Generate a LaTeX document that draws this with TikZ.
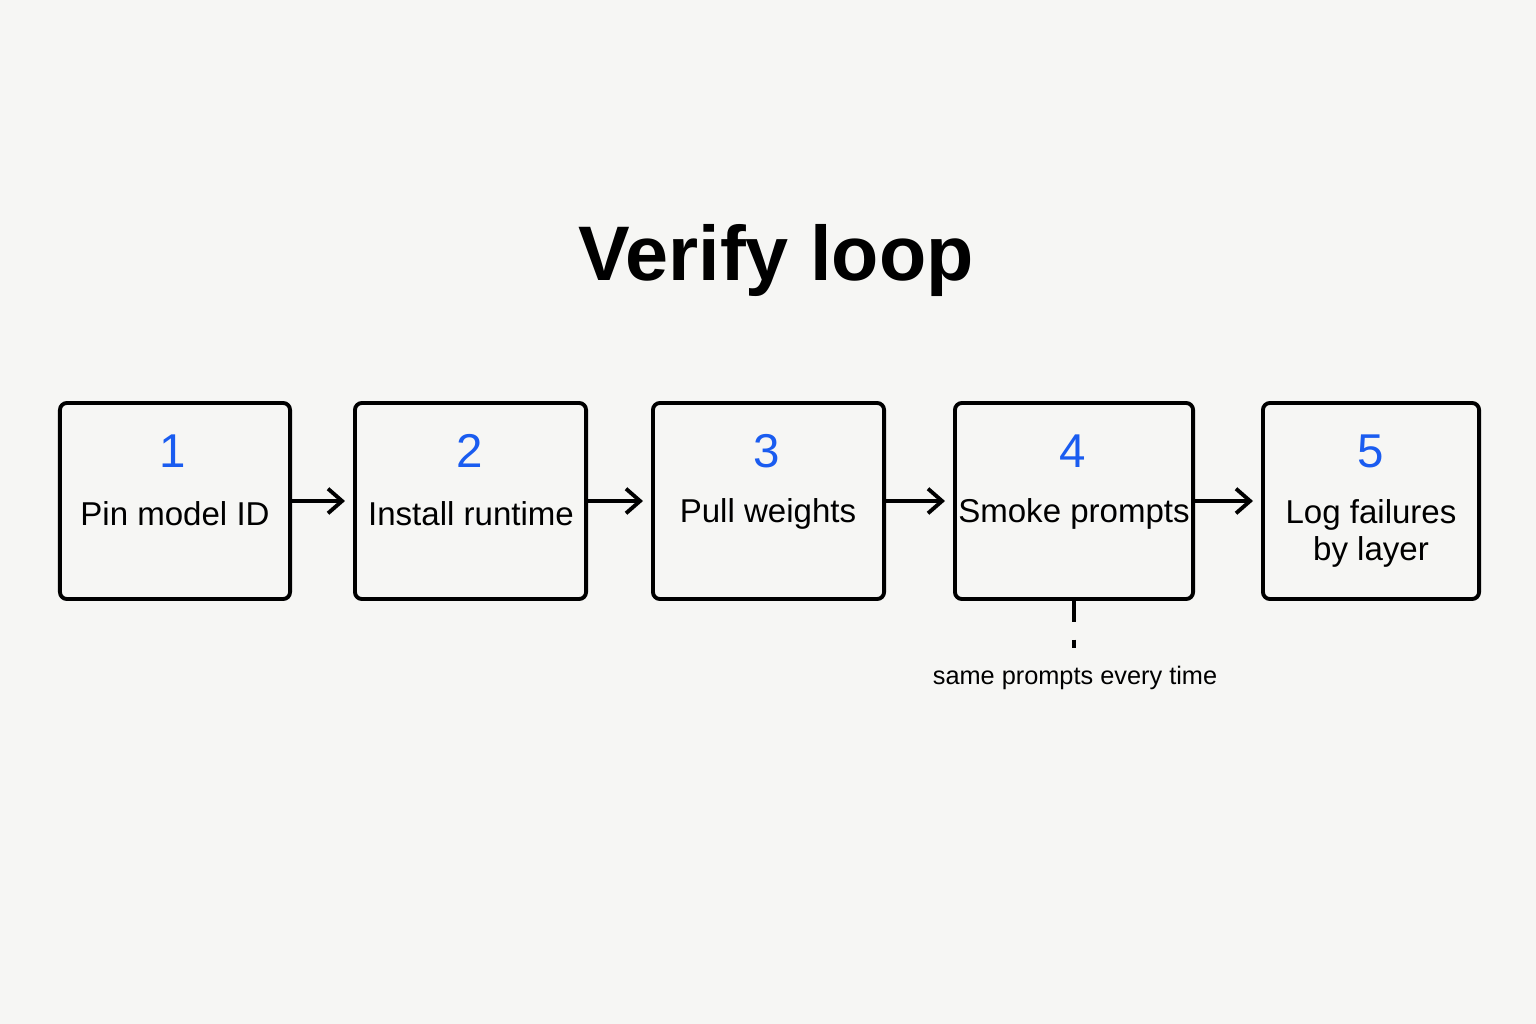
\documentclass[tikz,border=0pt]{standalone}
\usepackage{fontspec}
\setmainfont{Liberation Sans}
\usetikzlibrary{positioning,arrows.meta}
\definecolor{bg}{HTML}{F6F6F4}
\definecolor{stepblue}{HTML}{1A5CF0}
\tikzset{stepbox/.style={draw,line width=1.1pt,rounded corners=2pt,minimum height=1.96cm,inner sep=0pt},
	 num/.style={text=stepblue,font=\fontsize{13.5}{16}\selectfont},
	 lbl/.style={font=\fontsize{9.4}{11.5}\selectfont,align=center},
	 flow/.style={-{Straight Barb[length=4pt,width=7pt]},line width=1.1pt,shorten >=0.08cm}
	 }

\begin{document}
\begin{tikzpicture}[x=0.01cm,y=-0.01cm]
	\fill[bg] (0,0) rectangle (1536,1024);
	\node (title) at (776,260) {\fontsize{22}{26}\selectfont\bfseries Verify loop};

	\node[stepbox,minimum width=2.30cm] (s1) at (175,501) {};
	\node[stepbox,minimum width=2.31cm] (s2) at (470.5,501) {};
	\node[stepbox,minimum width=2.31cm] (s3) at (768.5,501) {};
	\node[stepbox,minimum width=2.38cm] (s4) at (1074,501) {};
	\node[stepbox,minimum width=2.16cm] (s5) at (1371,501) {};

	\node[num] (n1) at (173,451) {1};
	\node[num] (n2) at (470,451) {2};
	\node[num] (n3) at (767,451) {3};
	\node[num] (n4) at (1073,451) {4};
	\node[num] (n5) at (1371,451) {5};

	\node[lbl] (l1) at (175,514) {Pin model ID};
	\node[lbl] (l2) at (471,514) {Install runtime};
	\node[lbl] (l3) at (768,514) {Pull weights};
	\node[lbl] (l4) at (1074,514) {Smoke prompts};
	\node[lbl] (l5) at (1371,533) {Log failures\\[-1pt]by layer};

	\draw[flow] (s1) to (s2); \draw[flow] (s2) to (s3);
	\draw[flow] (s3) to (s4); \draw[flow] (s4) to (s5);

	\coordinate (d) at (1074,648);
	\draw[line width=1pt,dash pattern=on 6pt off 5pt] (s4.south) to (d);
	\node[font=\fontsize{7.2}{9}\selectfont] (note) at (1075,678) {same prompts every time};
\end{tikzpicture}
\end{document}
